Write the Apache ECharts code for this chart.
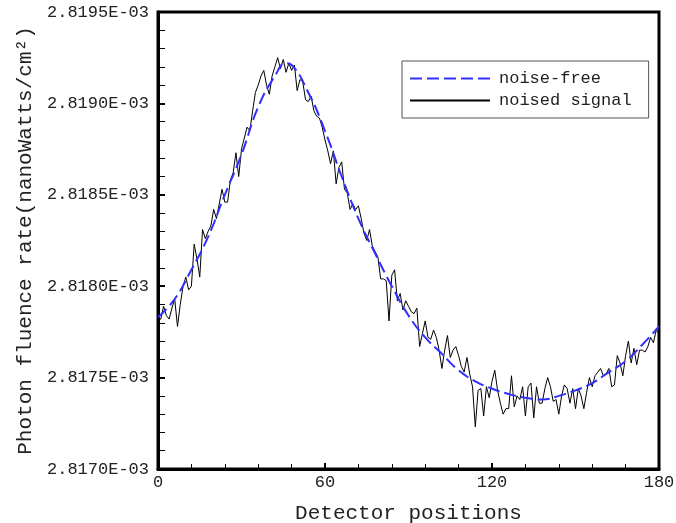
<!DOCTYPE html>
<html>
<head>
<meta charset="utf-8">
<script src="https://cdn.jsdelivr.net/npm/echarts@6/dist/echarts.min.js"></script>
<style>
  html, body { margin: 0; padding: 0; background: #fff; }
  #chart { width: 676px; height: 523px; }
</style>
</head>
<body>
<div id="chart"></div>
<script>
// values in units of 1E-03
const cleanX = [0, 6, 12, 18, 24, 30, 36, 42, 46, 48, 54, 60, 66, 72, 78, 84, 90, 96, 102, 108,
  114, 120, 126, 132, 138, 144, 150, 156, 162, 168, 174, 180];
const cleanY = [2.81783, 2.81793, 2.81809, 2.81827, 2.81850, 2.81872, 2.81898, 2.81915, 2.81922, 2.81921,
  2.81906, 2.81885, 2.81860, 2.81837, 2.81818, 2.81800, 2.81784, 2.81772, 2.81763, 2.81754,
  2.81748, 2.81744, 2.81741, 2.81739, 2.81738, 2.81740, 2.81743, 2.81747, 2.81753, 2.81759,
  2.81768, 2.81778];

// noised signal, one value per detector position 0..180
const noisyY = [
  2.81782, 2.81782, 2.81789, 2.81784, 2.81782, 2.81788, 2.81793, 2.81778, 2.81790, 2.81800,
  2.81805, 2.81798, 2.81800, 2.81823, 2.81815, 2.81805, 2.81831, 2.81826, 2.81830, 2.81833,
  2.81842, 2.81837, 2.81845, 2.81853, 2.81846, 2.81846, 2.81858, 2.81862, 2.81873, 2.81860,
  2.81875, 2.81881, 2.81887, 2.81885, 2.81896, 2.81906, 2.81910, 2.81915, 2.81918, 2.81910,
  2.81905, 2.81915, 2.81920, 2.81925, 2.81919, 2.81924, 2.81917, 2.81922, 2.81918, 2.81921,
  2.81907, 2.81913, 2.81912, 2.81902, 2.81901, 2.81904, 2.81896, 2.81893, 2.81892, 2.81887,
  2.81880, 2.81874, 2.81867, 2.81874, 2.81856, 2.81865, 2.81868, 2.81853, 2.81851, 2.81842,
  2.81845, 2.81842, 2.81844, 2.81837, 2.81829, 2.81825, 2.81831, 2.81822, 2.81819, 2.81816,
  2.81804, 2.81804, 2.81803, 2.81781, 2.81806, 2.81809, 2.81792, 2.81796, 2.81787, 2.81792,
  2.81789, 2.81786, 2.81785, 2.81788, 2.81767, 2.81774, 2.81781, 2.81772, 2.81771, 2.81776,
  2.81772, 2.81765, 2.81755, 2.81765, 2.81773, 2.81761, 2.81765, 2.81767, 2.81762, 2.81756,
  2.81753, 2.81761, 2.81752, 2.81745, 2.81723, 2.81743, 2.81744, 2.81729, 2.81745, 2.81739,
  2.81748, 2.81754, 2.81743, 2.81736, 2.81730, 2.81733, 2.81733, 2.81751, 2.81734, 2.81740,
  2.81738, 2.81745, 2.81729, 2.81745, 2.81747, 2.81728, 2.81745, 2.81736, 2.81736, 2.81744,
  2.81750, 2.81745, 2.81737, 2.81738, 2.81730, 2.81740, 2.81746, 2.81744, 2.81736, 2.81744,
  2.81733, 2.81744, 2.81740, 2.81733, 2.81742, 2.81750, 2.81745, 2.81751, 2.81753, 2.81755,
  2.81751, 2.81752, 2.81755, 2.81745, 2.81746, 2.81762, 2.81758, 2.81751, 2.81762, 2.81770,
  2.81758, 2.81766, 2.81757, 2.81765, 2.81765, 2.81764, 2.81767, 2.81772, 2.81769, 2.81776,
  2.81774
];

const xTicks = [0, 60, 120, 180];
const yTicks = [2.8170, 2.8175, 2.8180, 2.8185, 2.8190, 2.8195];

const font = 'Liberation Mono';
const chart = echarts.init(document.getElementById('chart'));

const option = {
  animation: false,
  backgroundColor: '#fff',
  grid: {
    left: 158, right: 17, top: 12, bottom: 54,
    outerBoundsMode: 'none',
    show: true, borderColor: '#000', borderWidth: 3, backgroundColor: 'transparent'
  },
  legend: {
    orient: 'vertical',
    left: 402, top: 61,
    padding: [9, 17, 9, 7],
    itemGap: 5,
    itemWidth: 80,
    itemHeight: 14,
    borderColor: '#555',
    borderWidth: 1,
    itemStyle: { color: 'transparent', borderWidth: 0, opacity: 0 },
    textStyle: { fontFamily: font, fontSize: 17, color: '#222', padding: [0, 0, 0, 4] },
    data: ['noise-free', 'noised signal']
  },
  xAxis: {
    type: 'value',
    min: xTicks[0], max: xTicks[xTicks.length - 1], interval: 60,
    name: 'Detector positions',
    nameLocation: 'middle',
    nameGap: 34,
    nameTextStyle: { fontFamily: font, fontSize: 21, color: '#222' },
    axisLine: { lineStyle: { color: '#000', width: 3 } },
    axisTick: { inside: true, length: 6, lineStyle: { color: '#000', width: 2 } },
    minorTick: { show: true, splitNumber: 5, length: 5, lineStyle: { color: '#000', width: 1 } },
    axisLabel: { fontFamily: font, fontSize: 17, color: '#222', margin: 5 },
    splitLine: { show: false }
  },
  yAxis: {
    type: 'value',
    min: yTicks[0], max: yTicks[yTicks.length - 1], interval: 0.0005,
    name: 'Photon fluence rate(nanoWatts/cm²)',
    nameLocation: 'middle',
    nameGap: 122,
    nameRotate: 90,
    nameTextStyle: { fontFamily: font, fontSize: 21, color: '#222' },
    axisLine: { lineStyle: { color: '#000', width: 3 } },
    axisTick: { inside: true, length: 7, lineStyle: { color: '#000', width: 2 } },
    minorTick: { show: true, splitNumber: 5, length: 7, lineStyle: { color: '#000', width: 1 } },
    axisLabel: {
      fontFamily: font, fontSize: 17, color: '#222', margin: 9,
      formatter: v => v.toFixed(4) + 'E-03'
    },
    splitLine: { show: false }
  },
  series: [
    {
      name: 'noise-free',
      type: 'line',
      smooth: true,
      symbol: 'none',
      data: cleanX.map((x, i) => [x, cleanY[i]]),
      lineStyle: { color: '#3030ff', width: 2, type: [12, 5] },
      itemStyle: { color: '#3030ff' },
      z: 3
    },
    {
      name: 'noised signal',
      type: 'line',
      symbol: 'none',
      data: noisyY.map((y, i) => [i, y]),
      lineStyle: { color: '#000', width: 1 },
      itemStyle: { color: '#000' },
      z: 2
    }
  ]
};

chart.setOption(option);
</script>
</body>
</html>
